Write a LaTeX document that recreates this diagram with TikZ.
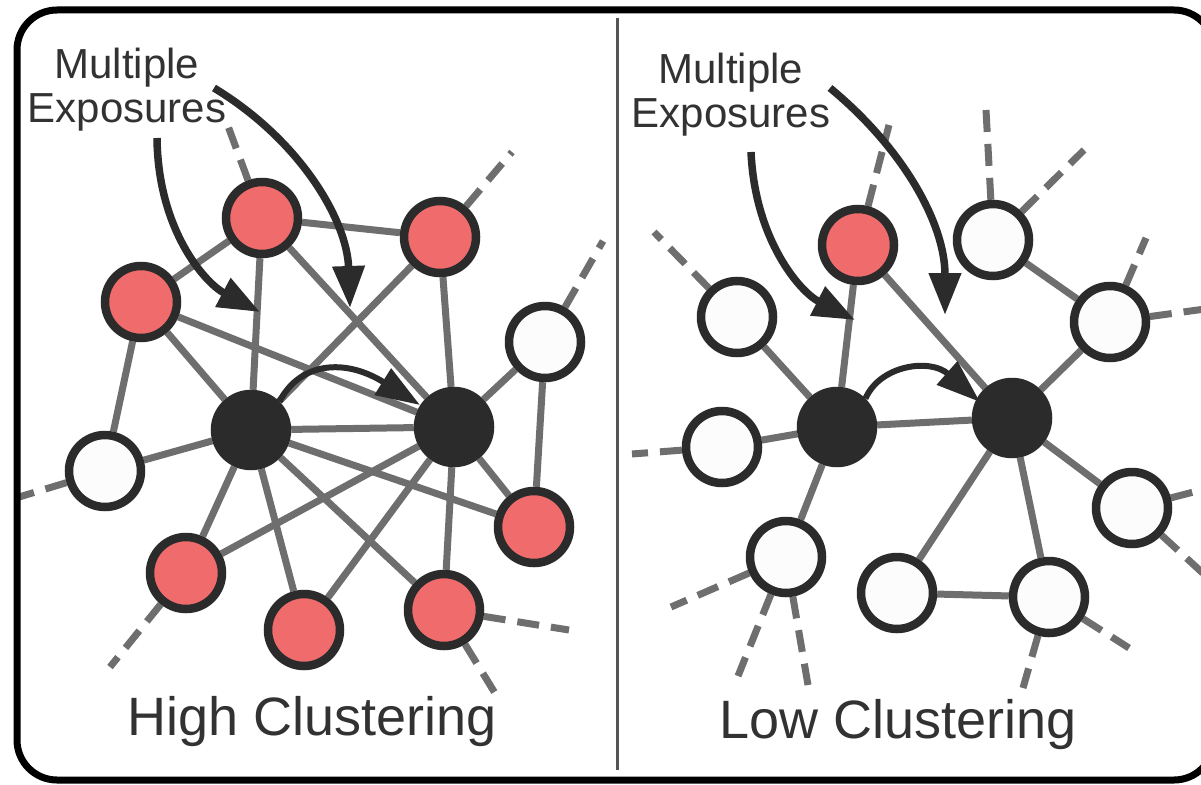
\documentclass[tikz,border=0pt]{standalone}
\usepackage{fontspec}
\setmainfont{Liberation Sans}
\usetikzlibrary{arrows.meta}
\pgfdeclarelayer{bg}
\pgfsetlayers{bg,main}
\definecolor{nred}{RGB}{240,108,108}
\definecolor{ndark}{RGB}{43,43,43}
\definecolor{nwhite}{RGB}{252,252,252}
\definecolor{egray}{RGB}{110,110,110}
\definecolor{tgray}{RGB}{50,50,50}
\definecolor{divc}{RGB}{85,85,85}
\begin{document}
\begin{tikzpicture}[x=1pt,y=-1pt,
  nd/.style={circle, draw=ndark, line width=8.5pt, minimum size=72pt, inner sep=0pt},
  rednd/.style={nd, fill=nred},
  whnd/.style={nd, fill=nwhite},
  blnd/.style={nd, fill=ndark},
  edge/.style={draw=egray, line width=7pt},
  dedge/.style={edge, dash pattern=on 22pt off 12pt},
  arr/.style={draw=ndark, line width=7.5pt, -{Triangle[length=42pt,width=31pt]}},
  arrs/.style={draw=ndark, line width=6pt, -{Triangle[length=44pt,width=30pt]}},
  toplbl/.style={text=tgray, inner sep=0pt, align=center, anchor=north,
    font=\fontsize{42}{44}\selectfont},
  botlbl/.style={text=tgray, inner sep=0pt, anchor=base,
    font=\fontsize{54}{58}\selectfont}
]
\useasboundingbox (0,0) rectangle (1201,784);
\begin{pgfonlayer}{bg}
\fill[white] (0,0) rectangle (1201,784);
\end{pgfonlayer}
\begin{scope}
\clip (0,0) rectangle (1201,784);
\draw[line width=7pt, rounded corners=40pt] (17,10) rectangle (1214,780);
\end{scope}
\draw[line width=3pt, divc] (617,18) -- (617,770);

% ---------- left panel nodes ----------
\node[rednd] (P1) at (262,218) {};
\node[rednd] (P2) at (440,237) {};
\node[rednd] (P3) at (141,302) {};
\node[whnd]  (P4) at (545,342) {};
\node[blnd]  (A)  at (251,430) {};
\node[blnd]  (B)  at (454,427) {};
\node[whnd]  (W1) at (105,471) {};
\node[rednd] (R4) at (186,573) {};
\node[rednd] (R5) at (304,630) {};
\node[rednd] (R6) at (444,610) {};
\node[rednd] (R7) at (534,527) {};

% ---------- right panel nodes ----------
\node[rednd] (Q0) at (858,245) {};
\node[whnd]  (T1) at (993,240) {};
\node[whnd]  (L1) at (737,317) {};
\node[whnd]  (Q1) at (1110,322) {};
\node[blnd]  (A2) at (837,427) {};
\node[blnd]  (B2) at (1012,418) {};
\node[whnd]  (L2) at (722,447) {};
\node[whnd]  (LL) at (786,557) {};
\node[whnd]  (Q2) at (1132,508) {};
\node[whnd]  (M)  at (897,593) {};
\node[whnd]  (BR) at (1049,597) {};

% dashed stub ends
\coordinate (d1) at (225,118);
\coordinate (d2) at (512,152);
\coordinate (d3) at (603,241);
\coordinate (d4) at (19,497);
\coordinate (d5) at (110,667);
\coordinate (d6) at (569,630);
\coordinate (d7) at (498,698);
\coordinate (e1) at (889,125);
\coordinate (e2) at (986,110);
\coordinate (e3) at (1084,150);
\coordinate (e4) at (1146,238);
\coordinate (e5) at (1205,309);
\coordinate (e6) at (654,232);
\coordinate (e7) at (632,454);
\coordinate (e8) at (671,607);
\coordinate (e9) at (738,676);
\coordinate (e10) at (808,685);
\coordinate (e11) at (1205,489);
\coordinate (e12) at (1207,577);
\coordinate (e13) at (1023,688);
\coordinate (e14) at (1129,648);

\begin{pgfonlayer}{bg}
% left solid edges
\draw[edge] (P1) -- (P2);
\draw[edge] (P1) -- (P3);
\draw[edge] (P1) -- (A);
\draw[edge] (P1) -- (B);
\draw[edge] (P2) -- (A);
\draw[edge] (P2) -- (B);
\draw[edge] (P3) -- (A);
\draw[edge] (P3) -- (B);
\draw[edge] (P3) -- (W1);
\draw[edge] (P4) -- (B);
\draw[edge] (P4) -- (R7);
\draw[edge] (A) -- (B);
\draw[edge] (A) -- (W1);
\draw[edge] (A) -- (R4);
\draw[edge] (A) -- (R5);
\draw[edge] (A) -- (R6);
\draw[edge] (A) -- (R7);
\draw[edge] (B) -- (R4);
\draw[edge] (B) -- (R5);
\draw[edge] (B) -- (R6);
\draw[edge] (B) -- (R7);
% left dashed
\draw[dedge] (P1) -- (d1);
\draw[dedge] (P2) -- (d2);
\draw[dedge] (P4) -- (d3);
\draw[dedge] (W1) -- (d4);
\draw[dedge] (R4) -- (d5);
\draw[dedge] (R6) -- (d6);
\draw[dedge] (R6) -- (d7);
% right solid edges
\draw[edge] (A2) -- (B2);
\draw[edge] (A2) -- (Q0);
\draw[edge] (A2) -- (L1);
\draw[edge] (A2) -- (L2);
\draw[edge] (A2) -- (LL);
\draw[edge] (B2) -- (Q0);
\draw[edge] (B2) -- (Q1);
\draw[edge] (B2) -- (Q2);
\draw[edge] (B2) -- (M);
\draw[edge] (B2) -- (BR);
\draw[edge] (M) -- (BR);
\draw[edge] (T1) -- (Q1);
% right dashed
\draw[dedge] (Q0) -- (e1);
\draw[dedge] (T1) -- (e2);
\draw[dedge] (T1) -- (e3);
\draw[dedge] (Q1) -- (e4);
\draw[dedge] (Q1) -- (e5);
\draw[dedge] (L1) -- (e6);
\draw[dedge] (L2) -- (e7);
\draw[dedge] (LL) -- (e8);
\draw[dedge] (LL) -- (e9);
\draw[dedge] (LL) -- (e10);
\draw[dedge] (Q2) -- (e11);
\draw[dedge] (Q2) -- (e12);
\draw[dedge] (BR) -- (e13);
\draw[dedge] (BR) -- (e14);
\end{pgfonlayer}

% labels
\node[toplbl] (mx1) at (127,48) {Multiple\\Exposures};
\node[toplbl] (mx2) at (731,53) {Multiple\\Exposures};
\node[botlbl] (hc) at (312,735) {High Clustering};
\node[botlbl] (lc) at (898,738) {Low Clustering};

% arrows
\coordinate (s1) at (157,138); \coordinate (t1) at (260,312);
\coordinate (s2) at (214,88);  \coordinate (t2) at (350,308);
\coordinate (t3) at (420,405);
\coordinate (s4) at (751,152); \coordinate (t4) at (855,320);
\coordinate (s5) at (830,88);  \coordinate (t5) at (945,315);
\coordinate (t6) at (980,402);
\draw[arr] (s1) .. controls (158,230) and (205,283) .. (t1);
\draw[arr] (s2) .. controls (300,140) and (347,220) .. (t2);
\draw[arrs] (A.45) .. controls (300,362) and (345,358) .. (t3);
\draw[arr] (s4) .. controls (755,240) and (800,292) .. (t4);
\draw[arr] (s5) .. controls (905,150) and (945,225) .. (t5);
\draw[arrs] (A2.45) .. controls (880,365) and (930,358) .. (t6);
\end{tikzpicture}
\end{document}
